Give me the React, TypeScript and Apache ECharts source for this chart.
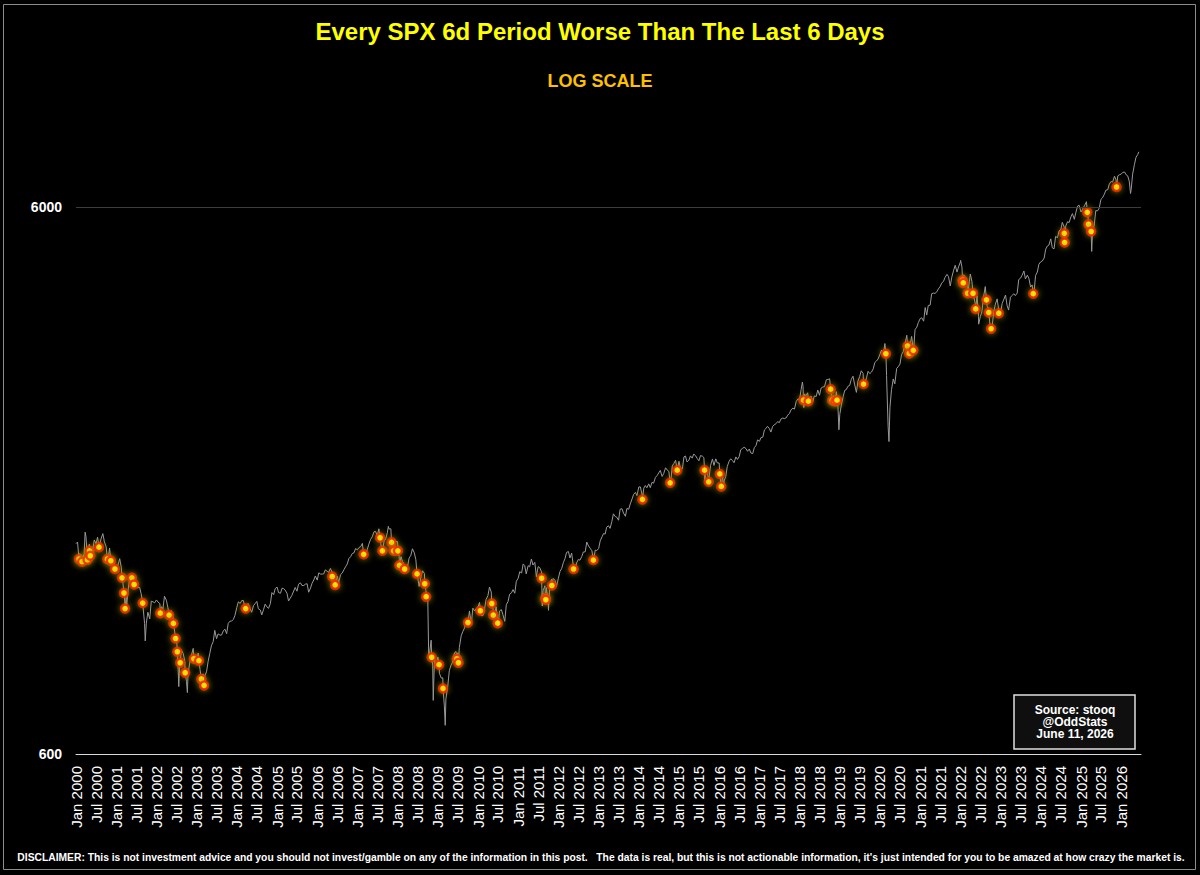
import React, { useEffect, useRef } from "react";
import * as echarts from "echarts";

const FONT = '"Liberation Sans", Arial, Helvetica, sans-serif';
const TITLE = "Every SPX 6d Period Worse Than The Last 6 Days";
const SUBTITLE = "LOG SCALE";
const SOURCE_LINES = ["Source: stooq", "@OddStats", "June 11, 2026"];
const DISCLAIMER =
  "DISCLAIMER: This is not investment advice and you should not invest/gamble on any of the information in this post.   The data is real, but this is not actionable information, it's just intended for you to be amazed at how crazy the market is.";

const MONTHS = ["Jan", "Feb", "Mar", "Apr", "May", "Jun", "Jul", "Aug", "Sep", "Oct", "Nov", "Dec"];

const TICK_LABELS = [
  "Jan 2000", "Jul 2000", "Jan 2001", "Jul 2001", "Jan 2002", "Jul 2002", "Jan 2003", "Jul 2003",
  "Jan 2004", "Jul 2004", "Jan 2005", "Jul 2005", "Jan 2006", "Jul 2006", "Jan 2007", "Jul 2007",
  "Jan 2008", "Jul 2008", "Jan 2009", "Jul 2009", "Jan 2010", "Jul 2010", "Jan 2011", "Jul 2011",
  "Jan 2012", "Jul 2012", "Jan 2013", "Jul 2013", "Jan 2014", "Jul 2014", "Jan 2015", "Jul 2015",
  "Jan 2016", "Jul 2016", "Jan 2017", "Jul 2017", "Jan 2018", "Jul 2018", "Jan 2019", "Jul 2019",
  "Jan 2020", "Jul 2020", "Jan 2021", "Jul 2021", "Jan 2022", "Jul 2022", "Jan 2023", "Jul 2023",
  "Jan 2024", "Jul 2024", "Jan 2025", "Jul 2025", "Jan 2026",
];
const Y_TICKS = [600, 6000];
const GRID_LEVEL = 6000;
const AXIS_START = "2000-01-01";
const AXIS_END = "2026-06-30";
const Y_MIN = 600;
const Y_MAX = 8000;
const HALF_YEAR_MS = (365 * 86400000) / 2;

// SPX closes sampled on the 1st and 15th of each month (Jan 1, Jan 15, Feb 1, Feb 15, ...)
const SPX_2000 = [1455, 1465, 1394, 1390, 1366, 1395, 1498, 1356, 1452, 1420, 1420, 1478, 1455, 1495, 1431, 1484, 1518, 1466, 1436, 1340, 1429, 1382, 1315, 1340];
const SPX_2001 = [1320, 1326, 1366, 1318, 1240, 1173, 1160, 1183, 1249, 1249, 1256, 1214, 1224, 1208, 1211, 1178, 1134, 1040, 1041, 1090, 1060, 1142, 1139, 1134];
const SPX_2002 = [1148, 1138, 1130, 1116, 1106, 1166, 1147, 1111, 1077, 1098, 1067, 1007, 990, 881, 884, 930, 916, 889, 815, 841, 885, 909, 936, 889];
const SPX_2003 = [880, 918, 856, 834, 841, 833, 848, 885, 917, 946, 964, 1010, 975, 995, 990, 990, 1008, 1015, 996, 1040, 1050, 1050, 1058, 1075];
const SPX_2004 = [1112, 1139, 1131, 1145, 1145, 1110, 1126, 1130, 1107, 1090, 1121, 1130, 1141, 1106, 1101, 1078, 1104, 1128, 1115, 1108, 1130, 1184, 1174, 1204];
const SPX_2005 = [1212, 1184, 1181, 1206, 1204, 1197, 1181, 1143, 1157, 1170, 1192, 1210, 1191, 1227, 1234, 1220, 1220, 1227, 1229, 1186, 1207, 1232, 1249, 1270];
const SPX_2006 = [1248, 1287, 1280, 1280, 1281, 1303, 1295, 1290, 1311, 1291, 1270, 1230, 1270, 1236, 1277, 1285, 1304, 1320, 1336, 1366, 1378, 1396, 1400, 1425];
const SPX_2007 = [1418, 1431, 1438, 1457, 1406, 1387, 1421, 1452, 1482, 1497, 1530, 1532, 1503, 1549, 1455, 1406, 1473, 1484, 1527, 1548, 1549, 1452, 1481, 1467];
const SPX_2008 = [1468, 1380, 1378, 1349, 1330, 1288, 1323, 1370, 1386, 1424, 1400, 1360, 1280, 1215, 1267, 1298, 1283, 1193, 1166, 907, 969, 873, 896, 868];
const SPX_2009 = [903, 843, 826, 827, 735, 756, 798, 852, 873, 883, 919, 924, 919, 940, 987, 1004, 1021, 1052, 1057, 1096, 1036, 1109, 1096, 1107];
const SPX_2010 = [1115, 1136, 1074, 1075, 1104, 1150, 1169, 1212, 1187, 1135, 1089, 1115, 1031, 1096, 1102, 1079, 1049, 1125, 1141, 1176, 1183, 1199, 1181, 1242];
const SPX_2011 = [1258, 1293, 1286, 1336, 1327, 1281, 1326, 1320, 1364, 1330, 1345, 1266, 1321, 1316, 1292, 1193, 1219, 1209, 1131, 1224, 1253, 1257, 1247, 1215];
const SPX_2012 = [1258, 1293, 1312, 1343, 1366, 1402, 1408, 1370, 1398, 1330, 1310, 1342, 1362, 1357, 1379, 1405, 1406, 1465, 1441, 1428, 1412, 1353, 1416, 1413];
const SPX_2013 = [1426, 1472, 1498, 1519, 1515, 1560, 1569, 1552, 1598, 1650, 1631, 1626, 1606, 1682, 1686, 1655, 1633, 1688, 1682, 1720, 1757, 1791, 1806, 1781];
const SPX_2014 = [1848, 1848, 1783, 1838, 1859, 1841, 1872, 1842, 1884, 1877, 1924, 1937, 1960, 1981, 1931, 1955, 2003, 1985, 1972, 1862, 2018, 2039, 2067, 1989];
const SPX_2015 = [2059, 1993, 1995, 2097, 2105, 2053, 2068, 2106, 2086, 2122, 2107, 2084, 2063, 2108, 2104, 2091, 1972, 1978, 1920, 2023, 2079, 2023, 2080, 2044];
const SPX_2016 = [2044, 1880, 1940, 1895, 1932, 2015, 2060, 2080, 2065, 2046, 2097, 2075, 2099, 2161, 2174, 2184, 2171, 2147, 2168, 2132, 2126, 2180, 2199, 2253];
const SPX_2017 = [2239, 2275, 2279, 2349, 2364, 2385, 2363, 2328, 2384, 2400, 2412, 2433, 2423, 2459, 2470, 2464, 2472, 2500, 2519, 2557, 2575, 2564, 2648, 2675];
const SPX_2018 = [2674, 2786, 2824, 2731, 2714, 2747, 2641, 2708, 2648, 2711, 2705, 2779, 2718, 2801, 2816, 2818, 2902, 2905, 2914, 2750, 2712, 2701, 2760, 2600];
const SPX_2019 = [2507, 2610, 2704, 2775, 2784, 2822, 2834, 2905, 2946, 2850, 2752, 2886, 2942, 3014, 2980, 2847, 2926, 3007, 2977, 2996, 3038, 3120, 3141, 3168];
const SPX_2020 = [3231, 3289, 3226, 3380, 2954, 2386, 2585, 2783, 2912, 2852, 3044, 3066, 3100, 3226, 3271, 3372, 3500, 3401, 3363, 3483, 3270, 3585, 3622, 3694];
const SPX_2021 = [3756, 3768, 3714, 3934, 3811, 3968, 3973, 4170, 4181, 4174, 4204, 4255, 4297, 4360, 4395, 4468, 4523, 4480, 4308, 4471, 4605, 4700, 4567, 4668];
const SPX_2022 = [4766, 4663, 4516, 4401, 4374, 4262, 4530, 4393, 4132, 4008, 4132, 3790, 3785, 3863, 4130, 4297, 3955, 3901, 3586, 3583, 3872, 3992, 4080, 3895];
const SPX_2023 = [3839, 3999, 4077, 4147, 3970, 3892, 4109, 4137, 4169, 4136, 4180, 4426, 4450, 4505, 4589, 4437, 4508, 4450, 4288, 4327, 4194, 4502, 4568, 4719];
const SPX_2024 = [4770, 4784, 4846, 5030, 5096, 5117, 5254, 5061, 5036, 5308, 5278, 5431, 5460, 5631, 5522, 5543, 5648, 5626, 5762, 5842, 5705, 5870, 6032, 6051];
const SPX_2025 = [5882, 5950, 6040, 6115, 5955, 5638, 5612, 5396, 5569, 5917, 5912, 5977, 6205, 6244, 6339, 6449, 6460, 6615, 6688, 6671, 6840, 6734, 6849, 6880];
const SPX_2026 = [6900, 6950, 6960, 6880, 6850, 6700, 6450, 6900, 7180, 7400, 7500];
const SPX_YEARS = [
  SPX_2000, SPX_2001, SPX_2002, SPX_2003, SPX_2004, SPX_2005, SPX_2006, SPX_2007, SPX_2008,
  SPX_2009, SPX_2010, SPX_2011, SPX_2012, SPX_2013, SPX_2014, SPX_2015, SPX_2016, SPX_2017,
  SPX_2018, SPX_2019, SPX_2020, SPX_2021, SPX_2022, SPX_2023, SPX_2024, SPX_2025, SPX_2026,
];
const FIRST_YEAR = 2000;

// notable highs / lows between the samples
const SPX_EXTREMES: [string, number][] = [
  ["2000-03-24", 1527], ["2001-04-04", 1103], ["2001-09-21", 966], ["2002-07-23", 797],
  ["2002-10-09", 777], ["2007-10-09", 1565], ["2008-10-10", 899], ["2008-11-20", 752],
  ["2009-03-09", 677], ["2010-07-02", 1022], ["2011-08-08", 1119], ["2011-10-03", 1099],
  ["2015-08-24", 1893], ["2016-02-11", 1829], ["2018-01-26", 2873], ["2018-02-08", 2581],
  ["2018-12-24", 2351], ["2020-02-19", 3386], ["2020-03-23", 2237], ["2022-01-03", 4797],
  ["2022-06-16", 3667], ["2022-10-12", 3577], ["2023-10-27", 4117], ["2025-02-19", 6144],
  ["2025-04-08", 4982], ["2026-03-27", 6360], ["2026-06-11", 7580],
];

// every 6-day period worse than the last 6 days
const SIGNALS: [string, number][] = [
  ["2000-01-28", 1364], ["2000-02-25", 1349], ["2000-04-14", 1360], ["2000-05-03", 1412],
  ["2000-05-10", 1383], ["2000-07-28", 1434], ["2000-10-12", 1364], ["2000-11-13", 1354],
  ["2000-12-20", 1308], ["2001-02-22", 1260], ["2001-03-12", 1182], ["2001-03-22", 1107],
  ["2001-05-23", 1260], ["2001-06-12", 1225], ["2001-08-29", 1133], ["2002-02-05", 1086],
  ["2002-04-26", 1077], ["2002-06-04", 1040], ["2002-06-24", 976], ["2002-07-10", 923],
  ["2002-08-05", 881], ["2002-09-19", 845], ["2002-12-07", 896], ["2003-01-22", 889],
  ["2003-02-13", 823], ["2003-03-10", 801], ["2004-03-22", 1107], ["2006-05-17", 1267],
  ["2006-06-13", 1223], ["2007-02-27", 1391], ["2007-07-26", 1492], ["2007-08-16", 1412],
  ["2007-11-07", 1463], ["2007-11-26", 1412], ["2008-01-04", 1412], ["2008-01-18", 1328],
  ["2008-03-05", 1308], ["2008-06-26", 1281], ["2008-09-04", 1229], ["2008-09-17", 1164],
  ["2008-11-06", 902], ["2009-01-12", 874], ["2009-02-17", 791], ["2009-06-22", 896],
  ["2009-07-07", 881], ["2009-10-02", 1044], ["2010-01-22", 1097], ["2010-05-06", 1131],
  ["2010-05-20", 1077], ["2010-06-29", 1041], ["2011-08-02", 1258], ["2011-09-06", 1157],
  ["2011-09-09", 1149], ["2011-11-03", 1220], ["2012-05-18", 1308], ["2012-11-14", 1358],
  ["2014-02-03", 1753], ["2014-10-13", 1880], ["2014-12-16", 1983], ["2015-08-21", 1983],
  ["2015-09-28", 1888], ["2016-01-07", 1952], ["2016-01-20", 1852], ["2018-02-05", 2663],
  ["2018-03-22", 2652], ["2018-10-10", 2789], ["2018-10-24", 2663], ["2018-11-20", 2652],
  ["2018-12-07", 2663], ["2019-08-05", 2850], ["2020-02-24", 3238], ["2020-09-08", 3346],
  ["2020-09-23", 3243], ["2020-10-30", 3285], ["2022-01-21", 4413], ["2022-01-27", 4363],
  ["2022-03-08", 4177], ["2022-04-26", 4177], ["2022-05-20", 3911], ["2022-08-26", 4064],
  ["2022-09-16", 3852], ["2022-10-07", 3598], ["2022-12-16", 3841], ["2023-10-25", 4170],
  ["2024-08-02", 5377], ["2024-08-05", 5174], ["2025-02-27", 5875], ["2025-03-10", 5586],
  ["2025-04-03", 5418], ["2025-11-20", 6535],
];

function ts(s: string): number {
  const [y, m, d] = s.split("-").map(Number);
  return Date.UTC(y, m - 1, d);
}

function buildLine(): [number, number][] {
  const pts: [number, number][] = [];
  SPX_YEARS.forEach((arr, yi) => {
    arr.forEach((v, i) => {
      const month = Math.floor(i / 2);
      const day = i % 2 === 0 ? 1 : 15;
      pts.push([Date.UTC(FIRST_YEAR + yi, month, day), v]);
    });
  });
  SPX_EXTREMES.forEach(([d, v]) => pts.push([ts(d), v]));
  SIGNALS.forEach(([d, v]) => pts.push([ts(d), v]));
  pts.sort((a, b) => a[0] - b[0]);
  return pts;
}

function fmtTick(v: number): string {
  const d = new Date(v);
  const label = `${MONTHS[d.getUTCMonth()]} ${d.getUTCFullYear()}`;
  return TICK_LABELS.indexOf(label) >= 0 ? label : "";
}

export default function App() {
  const ref = useRef<HTMLDivElement>(null);

  useEffect(() => {
    document.body.style.margin = "0";
    document.body.style.background = "#000";
    if (!ref.current) return;
    const chart = echarts.init(ref.current, undefined, { renderer: "svg" });

    const lineData = buildLine();
    const signalData = SIGNALS.map(([d, v]) => [ts(d), v]);

    const option: any = {
      animation: false,
      backgroundColor: "#000",
      useUTC: true,
      title: [
        {
          text: TITLE,
          left: "center",
          top: 14,
          textStyle: { color: "#FFFF00", fontSize: 24, fontWeight: "bold", fontFamily: FONT },
        },
        {
          text: SUBTITLE,
          left: "center",
          top: 67,
          textStyle: { color: "#FFC000", fontSize: 18, fontWeight: "bold", fontFamily: FONT },
        },
      ],
      grid: { left: 76, right: 59, top: 139, bottom: 121, containLabel: false, outerBoundsMode: "none" },
      xAxis: {
        type: "time",
        min: ts(AXIS_START),
        max: ts(AXIS_END),
        minInterval: HALF_YEAR_MS,
        maxInterval: HALF_YEAR_MS,
        splitLine: { show: false },
        axisTick: { show: false },
        axisLine: { show: true, lineStyle: { color: "#d9d9d9", width: 1 } },
        axisLabel: {
          rotate: 90,
          color: "#ffffff",
          fontSize: 15,
          fontFamily: FONT,
          margin: 12,
          hideOverlap: false,
          showMinLabel: true,
          showMaxLabel: false,
          formatter: (v: number) => fmtTick(v),
        },
      },
      yAxis: {
        type: "log",
        logBase: 10,
        min: Y_MIN,
        max: Y_MAX,
        axisLine: { show: false },
        axisTick: { show: false },
        splitLine: { show: false },
        axisLabel: {
          customValues: Y_TICKS,
          color: "#ffffff",
          fontSize: 14,
          fontWeight: "bold",
          fontFamily: FONT,
          margin: 14,
          formatter: (v: number) => {
            const r = Math.round(v);
            return Y_TICKS.indexOf(r) >= 0 ? String(r) : "";
          },
        },
      },
      series: [
        {
          type: "line",
          data: lineData,
          showSymbol: false,
          symbol: "none",
          lineStyle: { color: "#999999", width: 1 },
          z: 2,
          silent: true,
          markLine: {
            silent: true,
            symbol: "none",
            label: { show: false },
            lineStyle: { color: "#3c3c3c", width: 1, type: "solid" },
            data: [{ yAxis: GRID_LEVEL }],
          },
        },
        {
          type: "scatter",
          data: signalData,
          symbol: "circle",
          symbolSize: 8,
          z: 3,
          itemStyle: {
            color: "#FFFF00",
            borderColor: "#FF0000",
            borderWidth: 2.4,
            shadowBlur: 6,
            shadowColor: "rgba(150,150,0,0.95)",
          },
        },
      ],
      graphic: [
        {
          type: "rect",
          silent: true,
          shape: { x: 3.5, y: 4.5, width: 1192, height: 865 },
          style: { fill: "none", stroke: "#8c8c8c", lineWidth: 1 },
        },
        {
          type: "rect",
          silent: true,
          shape: { x: 1014, y: 695, width: 121, height: 54 },
          style: { fill: "#0f0f0f", stroke: "#e0e0e0", lineWidth: 1.5 },
        },
        {
          type: "text",
          silent: true,
          x: 1075,
          y: 722,
          style: {
            text: SOURCE_LINES.join("\n"),
            fill: "#ffffff",
            font: `bold 12px ${FONT}`,
            align: "center",
            verticalAlign: "middle",
            lineHeight: 12,
          },
        },
        {
          type: "text",
          silent: true,
          x: 601,
          y: 857,
          style: {
            text: DISCLAIMER,
            fill: "#ffffff",
            font: `bold 10.3px ${FONT}`,
            align: "center",
            verticalAlign: "middle",
          },
        },
      ],
    };

    chart.setOption(option);
    return () => chart.dispose();
  }, []);

  return <div ref={ref} style={{ width: 1200, height: 875 }} />;
}
